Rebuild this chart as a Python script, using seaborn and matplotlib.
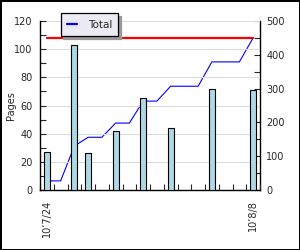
import numpy as np
import pandas as pd
import matplotlib
matplotlib.use("Agg")
import matplotlib.pyplot as plt
import seaborn as sns
from matplotlib.ticker import MultipleLocator, FixedLocator

# ---- data ----
days = ["07/24", "07/25", "07/26", "07/27", "07/28", "07/29", "07/30", "07/31",
        "08/01", "08/02", "08/03", "08/04", "08/05", "08/06", "08/07", "08/08"]
entry_days = ["07/24", "07/26", "07/27", "07/29", "07/31", "08/02", "08/05", "08/08"]
pages = [27, 103, 26, 42, 65, 44, 72, 71]
goal = 450
tick_days = ["07/24", "08/08"]
tick_labels = ["10\u20197/24", "10\u20198/8"]

df_bars = pd.DataFrame({"day": entry_days, "pages": pages})
total = pd.Series(pages, index=entry_days).reindex(days, fill_value=0).cumsum()
df_total = pd.DataFrame({"pos": np.arange(len(days)), "total": total.values})

sns.set_style("white")
plt.rcParams["font.family"] = ["DejaVu Sans"]

fig = plt.figure(figsize=(3.0, 2.5), dpi=100)
fig.patch.set_facecolor("white")
ax1 = fig.add_axes([40 / 300, 60 / 250, 220 / 300, 169 / 250])
ax2 = ax1.twinx()

# bars on left axis
sns.barplot(data=df_bars, x="day", y="pages", order=days, color="#add8e6",
            saturation=1, edgecolor="black", linewidth=0.8, width=0.45, ax=ax1,
            zorder=3)

# cumulative line + goal on right axis
sns.lineplot(data=df_total, x="pos", y="total", color="#0000ff", linewidth=0.8,
             ax=ax2, label="Total")
sns.lineplot(x=[0, len(days) - 1], y=[goal, goal], color="#ff0000",
             linewidth=1.6, ax=ax2)
if ax2.get_legend() is not None:
    ax2.get_legend().remove()

ax1.set_zorder(ax2.get_zorder() + 1)
ax1.patch.set_visible(False)

ax1.set_xlim(-0.5, len(days) - 0.5)
ax1.set_ylim(0, 120)
ax2.set_ylim(0, 500)

ax1.set_xlabel("")
ax1.set_ylabel("Pages", fontsize=7, labelpad=-1.5)
ax2.set_ylabel("")
ax2.set_xlabel("")

# x ticks
ax1.set_xticks([days.index(d) for d in tick_days])
ax1.set_xticklabels(tick_labels, rotation=90, fontsize=7)
ax1.xaxis.set_minor_locator(FixedLocator(np.arange(len(days) + 1) - 0.5))
ax1.tick_params(axis="x", which="major", length=0, pad=7)
ax1.tick_params(axis="x", which="minor", direction="in", length=4, width=0.8,
                bottom=True)

# y ticks
ax1.yaxis.set_major_locator(MultipleLocator(20))
ax1.yaxis.set_minor_locator(MultipleLocator(10))
ax1.tick_params(axis="y", which="both", direction="in", length=4, width=0.8,
                labelsize=7, pad=5.5, left=True)
ax2.yaxis.set_major_locator(MultipleLocator(100))
ax2.yaxis.set_minor_locator(MultipleLocator(50))
ax2.tick_params(axis="y", which="both", direction="in", length=4, width=0.8,
                labelsize=7, pad=4.5, right=True)

ax1.grid(axis="y", which="major", color="#dddddd", linewidth=0.8, zorder=0)
ax1.set_axisbelow(True)

for s in ["top", "right"]:
    ax1.spines[s].set_visible(False)
for s in ["top", "left", "bottom"]:
    ax2.spines[s].set_visible(False)
for ax in (ax1, ax2):
    for s in ax.spines.values():
        s.set_linewidth(1.0)
        s.set_color("black")

# legend
handles = [ax2.get_lines()[0]]
leg = ax1.legend(handles, ["Total"], loc="upper left",
                 bbox_to_anchor=(0.094, 1.045), borderaxespad=0,
                 fontsize=7.5, handlelength=1.0, handletextpad=1.0,
                 borderpad=0.6, fancybox=False, frameon=True,
                 shadow={"color": "#999999", "alpha": 1.0})
leg.get_frame().set_facecolor("#eceaf2")
leg.get_frame().set_edgecolor("black")
leg.get_frame().set_linewidth(0.9)
leg.get_frame().set_alpha(1)
for ln in leg.get_lines():
    ln.set_linewidth(1.6)

fig.patch.set_edgecolor("black")
fig.patch.set_linewidth(1.0)

fig.savefig("out.png", dpi=100, facecolor="white", edgecolor="black")
